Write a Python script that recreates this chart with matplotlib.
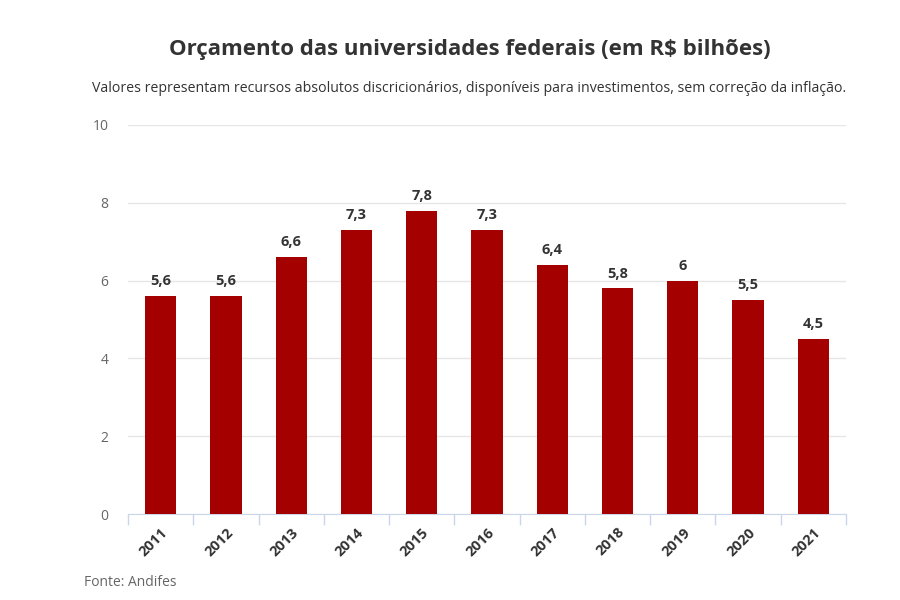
import matplotlib.pyplot as plt
import numpy as np

anos = ['2011', '2012', '2013', '2014', '2015', '2016', '2017', '2018', '2019', '2020', '2021']
valores = [5.6, 5.6, 6.6, 7.3, 7.8, 7.3, 6.4, 5.8, 6.0, 5.5, 4.5]
rotulos = ['5,6', '5,6', '6,6', '7,3', '7,8', '7,3', '6,4', '5,8', '6', '5,5', '4,5']

plt.rcParams['font.family'] = ['Open Sans', 'DejaVu Sans']

fig = plt.figure(figsize=(9, 6), dpi=100)
ax = fig.add_axes([128 / 900, 1 - 514 / 600, (846 - 128) / 900, (514 - 125) / 600])

x = np.arange(len(anos))
ax.bar(x, valores, width=0.48, color='#a50000', zorder=3)
for xi, v, r in zip(x, valores, rotulos):
    ax.text(xi, v + 0.2, r, ha='center', va='bottom', fontsize=10.5,
            fontweight='bold', color='#333333')

ax.set_xlim(-0.5, len(anos) - 0.5)
ax.set_ylim(0, 10)
ax.set_yticks([0, 2, 4, 6, 8, 10])
ax.grid(axis='y', color='#e6e6e6', linewidth=1, zorder=0)
ax.tick_params(axis='y', length=0, labelsize=10, labelcolor='#666666', pad=14)

ax.set_xticks(x)
ax.set_xticklabels(anos, rotation=45, ha='right', rotation_mode='anchor',
                   fontsize=10.5, fontweight='bold', color='#333333')
ax.tick_params(axis='x', length=0, pad=8)
ax.set_xticks(np.arange(-0.5, len(anos)), minor=True)
ax.tick_params(axis='x', which='minor', length=8, color='#ccd6eb', width=1)

for s in ['top', 'right', 'left']:
    ax.spines[s].set_visible(False)
ax.spines['bottom'].set_color('#ccd6eb')

fig.text(470 / 900, 1 - 50 / 600, 'Orçamento das universidades federais (em R$ bilhões)',
         ha='center', va='center', fontsize=16, fontweight='bold', color='#333333')
fig.text(469 / 900, 1 - 88 / 600,
         'Valores representam recursos absolutos discricionários, disponíveis para investimentos, sem correção da inflação.',
         ha='center', va='center', fontsize=10.2, color='#333333')
fig.text(84 / 900, 1 - 583 / 600, 'Fonte: Andifes', ha='left', va='center',
         fontsize=10, color='#666666')

fig.savefig('out.png', dpi=100)
